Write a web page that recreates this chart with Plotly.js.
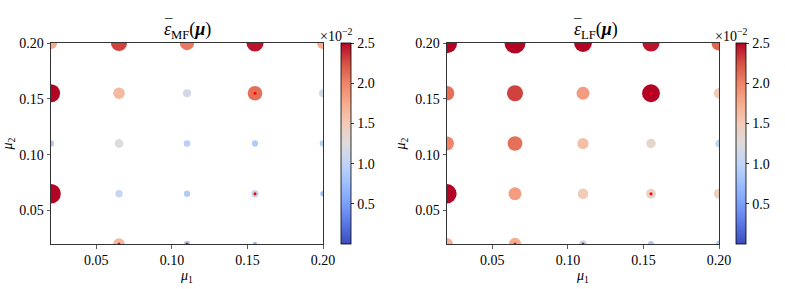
<!DOCTYPE html>
<html>
<head>
<meta charset="utf-8">
<script src="https://cdn.plot.ly/plotly-3.0.1.min.js"></script>
<style>html,body{margin:0;padding:0;background:#fff;}#chart{width:785px;height:289px;}</style>
</head>
<body>
<div id="chart"></div>
<script>
// Parameter grid (mu1, mu2), row by row from mu2 = 0.02 upward
const gridMu = [0.02, 0.065, 0.11, 0.155, 0.20];
const mu1 = [], mu2 = [];
gridMu.forEach(y => gridMu.forEach(x => { mu1.push(x); mu2.push(y); }));

// Mean errors in units of 1e-2 (rows: mu2 = 0.02, 0.065, 0.11, 0.155, 0.20)
const epsMF = [
  0.05, 1.65, 0.90, 0.60, 0.05,
  2.80, 1.05, 0.90, 1.05, 0.75,
  0.90, 1.25, 0.95, 0.90, 0.95,
  2.60, 1.65, 1.15, 2.10, 1.15,
  1.75, 2.30, 2.05, 2.45, 1.75
];
const epsLF = [
  1.70, 1.75, 1.10, 0.85, 0.90,
  2.75, 1.85, 1.50, 1.40, 1.45,
  2.00, 2.10, 1.60, 1.35, 1.05,
  2.10, 2.30, 1.85, 2.55, 1.50,
  2.90, 3.00, 2.55, 2.45, 2.15
];
// Training points (marked in red)
const trainMu1 = [0.155, 0.155, 0.065, 0.11];
const trainMu2 = [0.155, 0.065, 0.02, 0.02];

const tickVals = [0.05, 0.10, 0.15, 0.20];
const cbTicks = [0.5, 1.0, 1.5, 2.0, 2.5];

const coolwarm = [
  [0.0, '#3b4cc0'], [0.1, '#5977e3'], [0.2, '#7b9ff9'], [0.3, '#9ebeff'],
  [0.4, '#c0d4f5'], [0.5, '#dddcdc'], [0.6, '#f2cbb7'], [0.7, '#f7ac8e'],
  [0.8, '#ee8468'], [0.9, '#d65244'], [1.0, '#b40426']
];

const FAM = '"Liberation Serif", serif';
const font = {family: FAM, size: 14, color: '#000'};
const yTop = 1 - 43/289, yBot = 1 - 244/289;
const domL = [51/785, 323/785], domR = [447/785, 719/785];

function scatter(vals, xa, ya, cbx) {
  return {
    x: mu1, y: mu2, xaxis: xa, yaxis: ya, type: 'scatter', mode: 'markers',
    cliponaxis: true, hoverinfo: 'skip',
    marker: {
      color: vals, size: vals, sizemode: 'diameter', sizeref: 1/7, opacity: 1,
      colorscale: coolwarm, cmin: 0.003, cmax: 2.5, line: {width: 0},
      showscale: true,
      colorbar: {
        x: cbx, xanchor: 'left', y: yBot, yanchor: 'bottom', len: yTop - yBot, lenmode: 'fraction',
        thickness: 10, thicknessmode: 'pixels', xpad: 0, ypad: 0,
        outlinewidth: 0.8, outlinecolor: '#000',
        tickvals: cbTicks, ticktext: cbTicks.map(v => v.toFixed(1)),
        ticks: 'outside', ticklen: 3.5, tickwidth: 0.8, tickcolor: '#000',
        tickfont: font
      }
    }
  };
}
function train(xa, ya) {
  return {x: trainMu1, y: trainMu2, xaxis: xa, yaxis: ya, type: 'scatter', mode: 'markers',
    cliponaxis: true, hoverinfo: 'skip', marker: {color: 'red', size: 3, opacity: 1, line: {width: 0}}};
}

const axisCommon = {
  range: [0.02, 0.20], tickvals: tickVals, ticktext: tickVals.map(v => v.toFixed(2)),
  showgrid: false, zeroline: false, showline: true, mirror: true,
  linecolor: '#333', linewidth: 1, ticks: 'outside', ticklen: 3.5, tickwidth: 0.8, tickcolor: '#333',
  tickfont: font
};

const titleFont = {family: FAM, size: 18, color: '#000'};
const barFont = {family: FAM, size: 15, color: '#000'};
const layout = {
  width: 785, height: 289, margin: {l: 0, r: 0, t: 0, b: 0},
  paper_bgcolor: '#fff', plot_bgcolor: '#fff', showlegend: false, font: font,
  xaxis: Object.assign({}, axisCommon, {domain: domL, anchor: 'y',
    title: {text: '<i>μ</i><sub>1</sub>', font: font, standoff: 2}}),
  yaxis: Object.assign({}, axisCommon, {domain: [yBot, yTop], anchor: 'x',
    title: {text: '<i>μ</i><sub>2</sub>', font: font, standoff: 6}}),
  xaxis2: Object.assign({}, axisCommon, {domain: domR, anchor: 'y2',
    title: {text: '<i>μ</i><sub>1</sub>', font: font, standoff: 2}}),
  yaxis2: Object.assign({}, axisCommon, {domain: [yBot, yTop], anchor: 'x2',
    title: {text: '<i>μ</i><sub>2</sub>', font: font, standoff: 6}}),
  annotations: [
    {text: '<i>ε</i><sub>MF</sub>(<b><i>μ</i></b>)', xref: 'paper', yref: 'paper',
     x: 187/785, y: 1 - 30/289, xanchor: 'center', yanchor: 'middle',
     showarrow: false, font: titleFont},
    {text: '¯', xref: 'paper', yref: 'paper', x: 168/785, y: 1 - 24/289,
     xanchor: 'center', yanchor: 'middle', showarrow: false, font: barFont},
    {text: '<i>ε</i><sub>LF</sub>(<b><i>μ</i></b>)', xref: 'paper', yref: 'paper',
     x: 596/785, y: 1 - 30/289, xanchor: 'center', yanchor: 'middle',
     showarrow: false, font: titleFont},
    {text: '¯', xref: 'paper', yref: 'paper', x: 577/785, y: 1 - 24/289,
     xanchor: 'center', yanchor: 'middle', showarrow: false, font: barFont},
    {text: '×10<sup>−2</sup>', xref: 'paper', yref: 'paper', x: 318/785, y: 1 - 35/289,
     xanchor: 'left', yanchor: 'middle', showarrow: false, font: {family: FAM, size: 14, color: '#000'}},
    {text: '×10<sup>−2</sup>', xref: 'paper', yref: 'paper', x: 713/785, y: 1 - 35/289,
     xanchor: 'left', yanchor: 'middle', showarrow: false, font: {family: FAM, size: 14, color: '#000'}}
  ]
};

const data = [
  scatter(epsMF, 'x', 'y', 340.5/785),
  train('x', 'y'),
  scatter(epsLF, 'x2', 'y2', 736/785),
  train('x2', 'y2')
];
Plotly.newPlot('chart', data, layout, {staticPlot: true, displayModeBar: false});
</script>
</body>
</html>
